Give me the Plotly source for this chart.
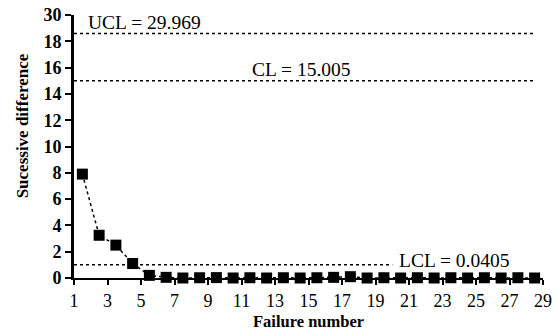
import plotly.graph_objects as go

failure_x = [1.5 + i for i in range(28)]
succ_diff = [7.9, 3.25, 2.5, 1.1, 0.2, 0.05, 0.0, 0.02, 0.03, 0.0, 0.02, 0.0, 0.02, 0.0,
             0.02, 0.05, 0.1, 0.0, 0.02, 0.0, 0.02, 0.0, 0.02, 0.0, 0.02, 0.0, 0.02, 0.0]

ucl_pos, cl_pos, lcl_pos = 18.6, 15.0, 1.0
ucl_text, cl_text, lcl_text = "UCL = 29.969", "CL = 15.005", "LCL = 0.0405"

ytick_vals = [0, 2, 4, 6, 8, 10, 12, 14, 16, 18, 20]
ytick_text = ["0", "2", "4", "6", "8", "10", "12", "14", "16", "18", "30"]
xtick_vals = list(range(1, 30, 2))
xtick_text = [str(v) for v in xtick_vals]

font = "Liberation Serif"

fig = go.Figure()
fig.add_trace(go.Scatter(
    x=failure_x, y=succ_diff, mode="lines+markers",
    line=dict(color="black", width=1.5, dash="dot"),
    marker=dict(symbol="square", size=11, color="black"),
    cliponaxis=False, showlegend=False))

fig.add_shape(type="line", xref="x", yref="y", x0=1, x1=28.4, y0=ucl_pos, y1=ucl_pos,
              line=dict(color="black", width=1.5, dash="dot"))
fig.add_shape(type="line", xref="x", yref="y", x0=1, x1=28.4, y0=cl_pos, y1=cl_pos,
              line=dict(color="black", width=1.5, dash="dot"))
fig.add_shape(type="line", xref="x", yref="y", x0=1, x1=20.0, y0=lcl_pos, y1=lcl_pos,
              line=dict(color="black", width=1.5, dash="dot"))

ann_font = dict(family=font, size=19.5, color="black")
fig.add_annotation(x=1.72, y=ucl_pos, text=ucl_text, showarrow=False, xanchor="left", yanchor="bottom",
                   font=ann_font, yshift=-2)
fig.add_annotation(x=14.6, y=cl_pos, text=cl_text, showarrow=False, xanchor="center", yanchor="bottom",
                   font=ann_font, yshift=-1)
fig.add_annotation(x=20.3, y=lcl_pos, text=lcl_text, showarrow=False, xanchor="left", yanchor="middle",
                   font=ann_font, yshift=4)

fig.add_annotation(xref="paper", yref="paper", x=-0.108, y=0.578, text="<b>Sucessive difference</b>",
                   textangle=-90, showarrow=False, xanchor="center", yanchor="middle",
                   font=dict(family=font, size=17, color="black"))
fig.add_annotation(xref="paper", yref="paper", x=0.5, y=-0.167, text="<b>Failure number</b>",
                   showarrow=False, xanchor="center", yanchor="middle",
                   font=dict(family=font, size=16.5, color="black"))

fig.update_layout(
    width=558, height=335,
    margin=dict(l=74, r=15, t=15, b=57),
    paper_bgcolor="white", plot_bgcolor="white",
    font=dict(family=font, color="black"),
)
fig.update_xaxes(range=[1, 29], tickvals=xtick_vals, ticktext=xtick_text, automargin=False,
                 showgrid=False, zeroline=False, showline=True, linecolor="black", linewidth=2,
                 ticks="outside", ticklen=5, tickwidth=1.5, tickcolor="black",
                 tickfont=dict(family=font, size=18))
fig.update_yaxes(range=[0, 20], tickvals=ytick_vals, ticktext=["<b>%s</b>" % t for t in ytick_text],
                 automargin=False,
                 showgrid=False, zeroline=False, showline=True, linecolor="black", linewidth=3,
                 ticks="outside", ticklen=6, tickwidth=2, tickcolor="black",
                 tickfont=dict(family=font, size=18))

fig.write_html("out.html", config={"displayModeBar": False},
               post_script="document.body.style.margin='0';document.body.style.overflow='hidden';")
